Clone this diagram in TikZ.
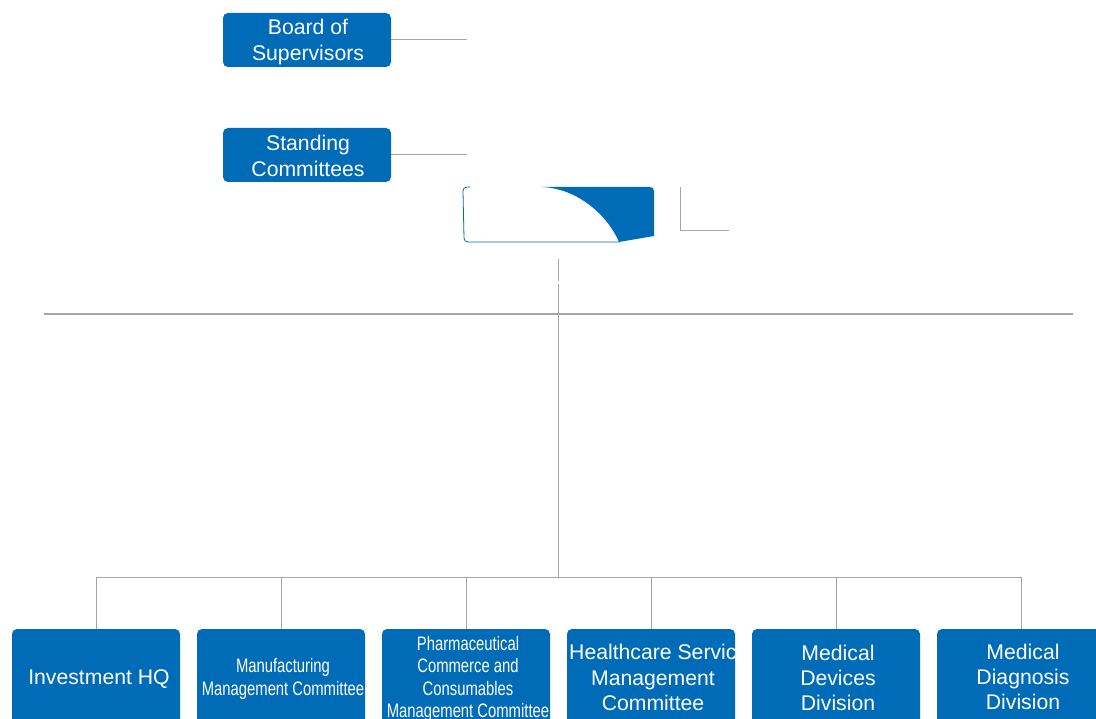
\documentclass[tikz,border=0pt]{standalone}
\usepackage{fontspec}
\setmainfont{Liberation Sans}
\definecolor{boxblue}{RGB}{0,107,182}
\definecolor{linegray}{RGB}{166,166,166}
\begin{document}
\begin{tikzpicture}[x=1pt,y=-1pt,
  box/.style={draw=none,fill=boxblue,rounded corners=5pt,minimum width=168pt,inner sep=0pt},
  lbl/.style={text=white,align=center,inner sep=0pt,font=\fontsize{21.2}{25.3}\selectfont},
  nlbl/.style={text=white,align=center,inner sep=0pt,xscale=0.76,font=\fontsize{19.5}{22.3}\selectfont},
  conn/.style={draw=linegray,line width=1pt},
  bus/.style={draw=linegray,line width=2pt}]
\useasboundingbox (0,0) rectangle (1096,719);
\clip (0,0) rectangle (1096,719);

% top boxes
\node[box,minimum height=54pt] (bos) at (307,40) {};
\node[box,minimum height=54pt] (sc) at (307,155) {};
\node[lbl] (bosl) at (308,42) {Board of\\Supervisors};
\node[lbl] (scl) at (308,156) {Standing\\Committees};
\coordinate (bosend) at (467,40);
\coordinate (scend) at (467,155);
\draw[conn] (bos.east) -- (bosend);
\draw[conn] (sc.east) -- (scend);

% central emblem
\coordinate (emb) at (558,215);
\fill[boxblue] (542,187) -- (650,187) .. controls (652.5,187) and (654,188.5) .. (654,191)
  -- (654,236) -- (619,242) .. controls (610,220) and (582,189) .. (542,187) -- cycle;
\draw[boxblue,line width=0.8pt] (470,187) -- (467,187) .. controls (464.5,187) and (463,188.5) .. (463,191)
  -- (464,238) .. controls (464,240.5) and (465.5,242) .. (468,242) -- (620,242);

% right corner line
\coordinate (rc1) at (680,187);
\coordinate (rc2) at (680,231);
\coordinate (rc3) at (729,231);
\draw[conn] (rc1) -- (rc2) -- (rc3);

% trunk
\coordinate (t0) at (558,259);
\coordinate (t1) at (558,281);
\coordinate (t2) at (558,284);
\coordinate (t3) at (558,577);
\draw[conn] (t0) -- (t1);
\draw[conn] (t2) -- (t3);

% main horizontal line
\coordinate (hl) at (44,314);
\coordinate (hr) at (1073,314);
\draw[bus] (hl) -- (hr);

% bottom boxes
\foreach \i/\x in {1/96,2/281,3/466,4/651,5/836,6/1021}{
  \node[box,minimum height=100pt] (b\i) at (\x,679) {};
  \coordinate (j\i) at (\x,577);
  \draw[conn] (j\i) -- (b\i.north);
}
\draw[conn] (j1) -- (j6);

\node[lbl] (l1) at (99,679) {Investment HQ};

\begin{scope}
  \clip[rounded corners=5pt] (b2.south west) rectangle (b2.north east);
  \node[nlbl] (l2) at (283,679) {Manufacturing\\Management Committee};
\end{scope}

\begin{scope}
  \clip[rounded corners=5pt] (b3.south west) rectangle (b3.north east);
  \node[nlbl] (l3) at (468,679) {Pharmaceutical\\Commerce and\\Consumables\\Management Committee};
\end{scope}

\begin{scope}
  \clip[rounded corners=5pt] (b4.south west) rectangle (b4.north east);
  \node[lbl,anchor=base west] (l4a) at (569,659) {Healthcare Servic};
  \node[lbl] (l4b) at (653,690.5) {Management\\Committee};
\end{scope}

\node[lbl] (l5) at (838,678) {Medical\\Devices\\Division};
\node[lbl] (l6) at (1023,677) {Medical\\Diagnosis\\Division};
\end{tikzpicture}
\end{document}
